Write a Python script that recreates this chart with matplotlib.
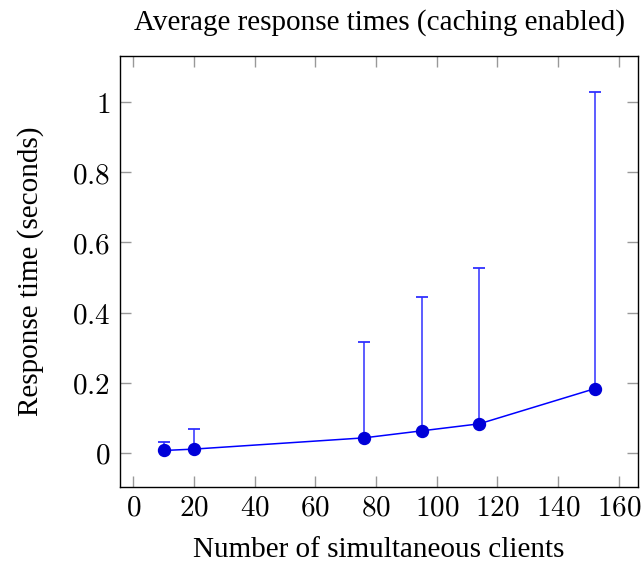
import numpy as np
import matplotlib
matplotlib.use('Agg')
import matplotlib.pyplot as plt
from matplotlib.ticker import FuncFormatter

# data
clients = [10, 20, 76, 95, 114, 152]
avg_time = [0.007, 0.011, 0.043, 0.063, 0.083, 0.183]
max_time = [0.030, 0.069, 0.317, 0.445, 0.528, 1.028]

plt.rcParams['mathtext.fontset'] = 'cm'
serif = 'Liberation Serif'

fig = plt.figure(figsize=(6.41, 5.64), dpi=100)
ax = fig.add_axes([120 / 641, 1 - 487 / 564, 518 / 641, 431 / 564])

y = np.array(avg_time)
upper = np.array(max_time) - y
ax.errorbar(clients, y, yerr=[np.zeros_like(y), upper], fmt='none',
            ecolor='#3030ff', elinewidth=1.1, capsize=4, capthick=1.3)
ax.plot(clients, y, '-', color='#0000ff', lw=1.1, zorder=3)
ax.plot(clients, y, 'o', color='#0000d8', ms=8.6, zorder=4)

ax.set_xlim(-4.4, 166.3)
ax.set_ylim(-0.097, 1.131)
ax.set_xticks(np.arange(0, 161, 20))
ax.set_yticks([0, 0.2, 0.4, 0.6, 0.8, 1])
fmt = FuncFormatter(lambda v, p: f'${v:g}$')
ax.xaxis.set_major_formatter(fmt)
ax.yaxis.set_major_formatter(fmt)

ax.tick_params(direction='in', length=8, width=1, color='#999999',
               top=True, right=True, labelsize=21)
ax.tick_params(axis='x', pad=5)
ax.tick_params(axis='y', pad=7)
for s in ax.spines.values():
    s.set_linewidth(1)

ax.set_title('Average response times (caching enabled)', family=serif,
             fontsize=21, pad=19)
ax.set_xlabel('Number of simultaneous clients', family=serif, fontsize=21,
              labelpad=11)
ax.set_ylabel('Response time (seconds)', family=serif, fontsize=21,
              labelpad=20)

fig.savefig('out.png', dpi=100)
